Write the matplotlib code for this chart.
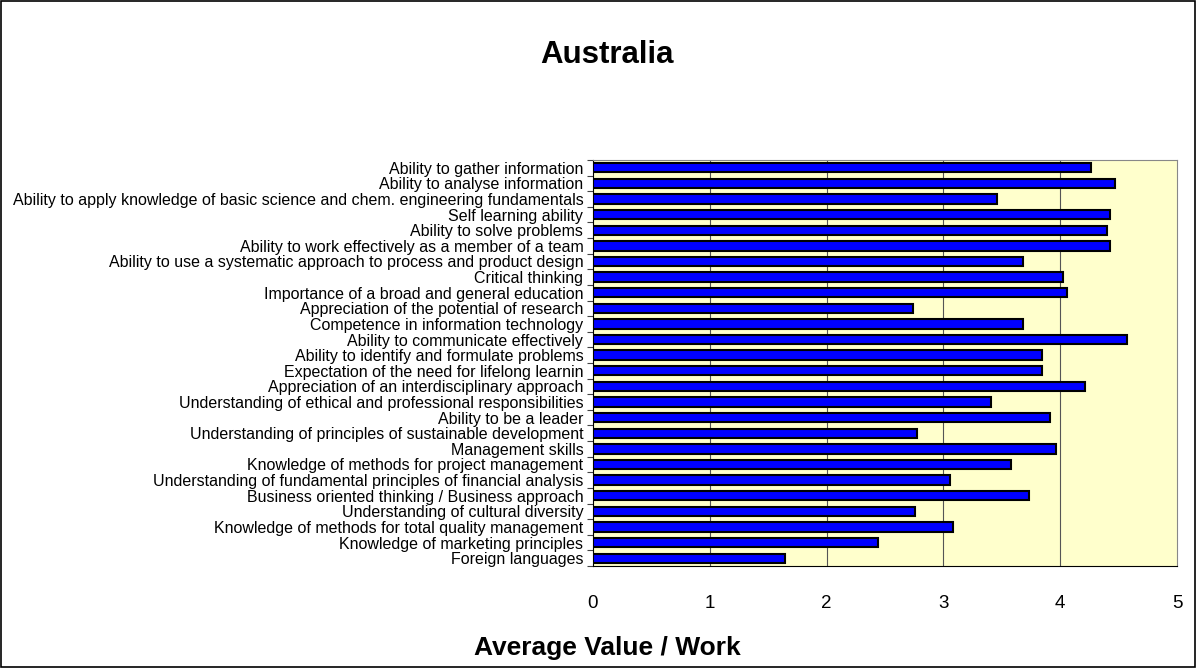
import numpy as np
import matplotlib
matplotlib.use("Agg")
import matplotlib.pyplot as plt
from matplotlib.patches import Rectangle

# categories from top to bottom as in the chart
skills = [
    "Ability to gather information",
    "Ability to analyse information",
    "Ability to apply knowledge of basic science and chem. engineering fundamentals",
    "Self learning ability",
    "Ability to solve problems",
    "Ability to work effectively as a member of a team",
    "Ability to use a systematic approach to process and product design",
    "Critical thinking",
    "Importance of a broad and general education",
    "Appreciation of the potential of research",
    "Competence in information technology",
    "Ability to communicate effectively",
    "Ability to identify and formulate problems",
    "Expectation of the need for lifelong learnin",
    "Appreciation of an interdisciplinary approach",
    "Understanding of ethical and professional responsibilities",
    "Ability to be a leader",
    "Understanding of principles of sustainable development",
    "Management skills",
    "Knowledge of methods for project management",
    "Understanding of fundamental principles of financial analysis",
    "Business oriented thinking / Business approach",
    "Understanding of cultural diversity",
    "Knowledge of methods for total quality management",
    "Knowledge of marketing principles",
    "Foreign languages",
]
avg_values = [
    4.26, 4.47, 3.46, 4.43, 4.40, 4.43, 3.68, 4.02, 4.06, 2.74, 3.68, 4.57, 3.84,
    3.84, 4.21, 3.41, 3.91, 2.77, 3.96, 3.58, 3.06, 3.73, 2.76, 3.08, 2.44, 1.64,
]
x_ticks = [0, 1, 2, 3, 4, 5]

plt.rcParams['font.family'] = ['Liberation Sans', 'DejaVu Sans']

fig = plt.figure(figsize=(11.97, 6.68), dpi=100)
ax = fig.add_axes([0.4954, 0.1527, 0.4879, 0.6078])

n = len(skills)
ypos = np.arange(n)[::-1]
ax.barh(ypos, avg_values, height=0.6, color="#0000FF", edgecolor="black", linewidth=1.5, zorder=3)

ax.set_xlim(0, 5)
ax.set_ylim(-0.5, n - 0.5)
ax.set_facecolor("#FFFFCC")
ax.set_xticks(x_ticks)
ax.set_xticklabels([str(t) for t in x_ticks], fontsize=13.5)
ax.tick_params(axis="x", length=0, pad=21)
for t in x_ticks[1:-1]:
    ax.axvline(t, color="#555555", linewidth=0.8, zorder=1)

ax.set_yticks(ypos)
ax.set_yticklabels(skills, fontsize=11.5)
ax.tick_params(axis="y", which="major", length=0, pad=7)
ax.set_yticks(np.arange(n + 1) - 0.5, minor=True)
ax.tick_params(axis="y", which="minor", length=4, width=0.8, color="#444444")

ax.spines["left"].set_color("black")
ax.spines["bottom"].set_color("black")
ax.spines["top"].set_color("#888888")
ax.spines["right"].set_color("#888888")

fig.text(0.507, 0.030, "Average Value / Work", ha="center", va="center", fontsize=19, fontweight="bold")
fig.text(0.507, 0.918, "Australia", ha="center", va="center", fontsize=22.5, fontweight="bold")

fig.patches.append(Rectangle((0.001, 0.002), 0.997, 0.996, transform=fig.transFigure,
                             fill=False, edgecolor="black", linewidth=1.2))

fig.savefig("out.png", dpi=100)
